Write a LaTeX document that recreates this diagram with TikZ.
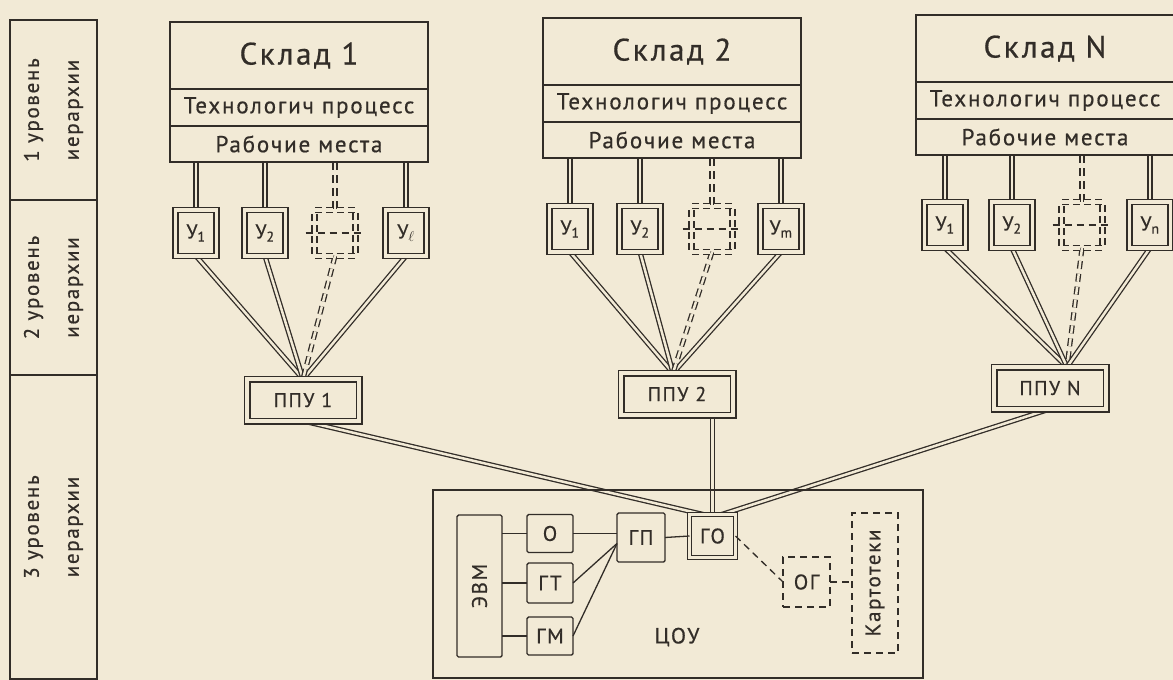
\documentclass[tikz,border=0pt]{standalone}
\usepackage{fontspec}
\setmainfont[LetterSpace=8, FakeBold=0.6]{PT Sans}
\usepackage{graphicx}
\usetikzlibrary{positioning,backgrounds}

\definecolor{paper}{RGB}{242,234,214}
\definecolor{ink}{RGB}{50,45,40}

\begin{document}
\begin{tikzpicture}[x=1pt, y=-1pt,
    every node/.style={text=ink, inner sep=0pt, outer sep=0pt},
    whbox/.style={draw=ink, line width=1.9pt, minimum width=258pt},
    title/.style={whbox, minimum height=67pt, font=\fontsize{31}{32}\selectfont},
    row/.style={whbox, minimum height=37pt, font=\fontsize{23}{24}\selectfont},
    ubox/.style={draw=ink, line width=1.4pt, double=paper, double distance=3.5pt,
        minimum width=41pt, minimum height=46pt, font=\fontsize{20}{20}\selectfont},
    ughost/.style={ubox, dash pattern=on 7pt off 4pt},
    ppu/.style={draw=ink, line width=1.5pt, double=paper, double distance=4pt,
        minimum width=112pt, minimum height=42pt, font=\fontsize{20}{20}\selectfont},
    link/.style={draw=ink, line width=1.3pt, double=paper, double distance=2.5pt},
    dlink/.style={link, dash pattern=on 8pt off 5pt},
    unit/.style={draw=ink, line width=1.4pt, rounded corners=1.5pt,
        minimum width=46pt, minimum height=38pt, font=\fontsize{21}{22}\selectfont},
    wire/.style={draw=ink, line width=1.3pt},
    gap/.style={dash pattern=on 7pt off 5pt},
    lvlbox/.style={draw=ink, line width=1.9pt, rotate=90, minimum height=87pt,
        align=center, font=\fontsize{21}{40}\selectfont}
]

\begin{scope}[on background layer]
\fill[paper] (0,0) rectangle (1173,680);
\end{scope}
\useasboundingbox (0,0) rectangle (1173,680);

% Hierarchy levels
\node[lvlbox, minimum width=180pt] (lvl1) at (53.5,110) {1 уровень\\иерархии};
\node[lvlbox, minimum width=175pt] (lvl2) at (53.5,287.5) {2 уровень\\иерархии};
\node[lvlbox, minimum width=304pt] (lvl3) at (53.5,527) {3 уровень\\иерархии};

% Warehouses
\foreach \s/\lab/\cx/\top in {1/1/299/22, 2/2/672/18, 3/N/1045/15} {
    \node[title, anchor=north] (s\s) at (\cx,\top) {Склад \lab};
    \node[row, below=0pt of s\s] (t\s) {Технологич процесс};
    \node[row, below=0pt of t\s, minimum height=36pt] (r\s) {Рабочие места};
}

% Terminals
\foreach \i/\x/\lab in {1/196/1, 2/265/2, 4/406/$\ell$}
    \node[ubox] (u1\i) at (\x,233) {У\textsubscript{\lab}};
\node[ughost] (u13) at (335,233) {};
\foreach \i/\x/\lab in {1/570/1, 2/640/2, 4/781/m}
    \node[ubox] (u2\i) at (\x,229) {У\textsubscript{\lab}};
\node[ughost] (u23) at (712,229) {};
\foreach \i/\x/\lab in {1/945/1, 2/1012/2, 4/1150/n}
    \node[ubox] (u3\i) at (\x,225) {У\textsubscript{\lab}};
\node[ughost] (u33) at (1082,225) {};
\foreach \s in {1,2,3}
    \draw[wire, gap] ([xshift=-9pt]u\s3.west) -- ([xshift=9pt]u\s3.east);

% Local control units
\node[ppu] (ppu1) at (303,400) {ППУ 1};
\node[ppu] (ppu2) at (677,394) {ППУ 2};
\node[ppu] (ppu3) at (1050,388) {ППУ N};

% Central unit
\node[draw=ink, line width=1.9pt, minimum width=490pt, minimum height=188pt] (cou) at (678,584) {};
\node[font=\fontsize{22}{22}\selectfont] (coulab) at (677,637) {ЦОУ};
\node[unit, minimum width=45pt, minimum height=142pt] (evm) at (479.5,586) {\rotatebox{90}{ЭВМ}};
\node[unit] (o) at (550,533.5) {О};
\node[unit, minimum height=40pt] (gt) at (550,583) {ГТ};
\node[unit] (gm) at (550,636) {ГМ};
\node[unit, minimum width=48pt, minimum height=49pt] (gp) at (641,537.5) {ГП};
\node[unit, rounded corners=0pt, double=paper, double distance=2.5pt,
    minimum width=46pt, minimum height=43pt] (go) at (712.5,536) {ГО};
\node[unit, gap, rounded corners=0pt, minimum width=47pt, minimum height=50pt] (og) at (806.5,582) {ОГ};
\node[unit, gap, rounded corners=0pt, minimum width=46pt, minimum height=140pt,
    font=\fontsize{21}{22}\selectfont] (kart) at (875,583) {\rotatebox{90}{Картотеки}};

\foreach \u in {o,gt,gm}
    \draw[wire] (\u.west) -- (\u.west -| evm.east);
\draw[wire] (o.east) -- (o.east -| gp.west);
\draw[wire] (gt.east) -- ([yshift=-6pt]gp.west);
\draw[wire] (gm.east) -- ([yshift=-6pt]gp.west);
\draw[wire] (gp.east) -- (go.west);
\draw[wire, gap] (go.east) -- (og.west);
\draw[wire, gap] (og.east) -- (og.east -| kart.west);

% Connections
\begin{scope}[on background layer]
\foreach \s/\dx in {1/0, 2/-4, 3/17} {
    \foreach \i in {1,2,4} {
        \draw[link] (u\s\i.north |- r\s.south) -- (u\s\i.north);
        \draw[link] (u\s\i.south) -- ([xshift=\dx pt]ppu\s.north);
    }
    \draw[dlink] (u\s3.north |- r\s.south) -- (u\s3.north);
    \draw[dlink] (u\s3.south) -- ([xshift=\dx pt]ppu\s.north);
}
\draw[link] (ppu1.south) -- ([xshift=-9pt]go.north);
\draw[link] (go.north |- ppu2.south) -- (go.north);
\draw[link] (ppu3.south) -- ([xshift=9pt]go.north);
\end{scope}

\end{tikzpicture}
\end{document}
